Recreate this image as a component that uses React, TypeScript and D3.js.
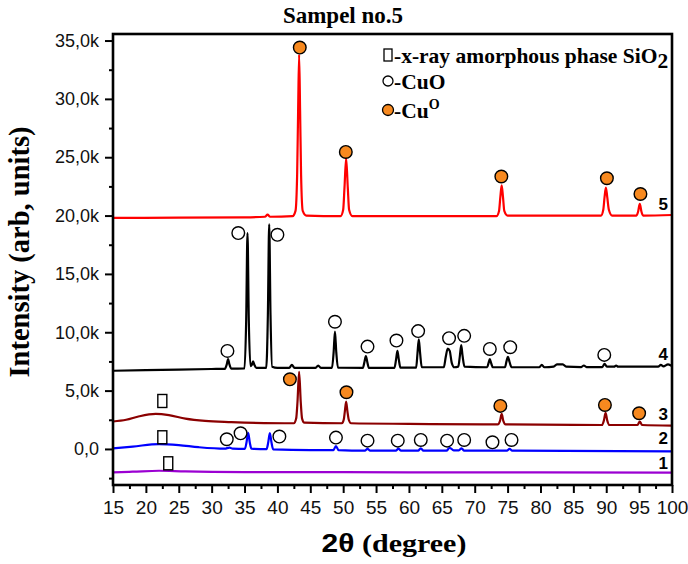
import React, { useEffect, useRef } from 'react';
import * as d3 from 'd3';

type Pt = [number, number];

// 2θ (degree) vs intensity (thousands of counts), each pattern already offset
const pattern1: Pt[] = [
  [15, -2.0], [18, -1.95], [22, -1.87], [26, -1.93], [35, -1.98], [60, -2.0], [100, -2.03]
];

const pattern2: Pt[] = [
  [15, 0.05], [18, 0.2], [22, 0.42], [25, 0.33], [28, 0.15], [32, 0.02], [32.7, 0.12], [33.2, 0.02],
  [35.05, 0.0], [35.3, 0.55], [35.55, 1.38], [35.8, 0.55], [36.05, 0.02],
  [38.35, -0.02], [38.6, 0.55], [38.85, 1.35], [39.1, 0.55], [39.35, -0.03],
  [45, -0.1], [48.5, -0.1], [48.9, 0.25], [49.3, -0.1],
  [53.3, -0.15], [53.7, 0.0], [54.1, -0.15], [58.0, -0.15], [58.4, 0.02], [58.8, -0.15],
  [61.4, -0.15], [61.8, 0.05], [62.2, -0.15], [65.7, -0.15], [66.2, 0.1], [66.8, -0.12],
  [67.6, -0.12], [68.0, 0.05], [68.4, -0.15], [74.9, -0.15], [75.3, 0.0], [75.7, -0.15], [100, -0.2]
];

const pattern3: Pt[] = [
  [15, 2.35], [17, 2.5], [19, 2.8], [21.5, 3.0], [23.5, 2.9], [26, 2.6], [29, 2.4], [33, 2.3], [38, 2.22],
  [42.5, 2.2], [42.85, 2.6], [43.05, 4.0], [43.3, 6.6], [43.55, 4.0], [43.75, 2.6], [44.1, 2.25],
  [49.8, 2.2], [50.1, 2.55], [50.25, 3.2], [50.45, 4.05], [50.65, 3.2], [50.85, 2.5], [51.2, 2.2],
  [60, 2.15], [73.5, 2.1], [73.85, 2.4], [74.1, 3.0], [74.35, 2.4], [74.7, 2.1],
  [89.35, 2.05], [89.65, 2.45], [89.9, 3.1], [90.15, 2.45], [90.5, 2.05],
  [94.75, 2.05], [95.1, 2.35], [95.45, 2.05], [100, 2.0]
];

const pattern4: Pt[] = [
  [15, 6.7], [20, 6.75], [25, 6.8], [30, 6.85], [32.0, 6.87], [32.3, 7.25], [32.5, 7.7], [32.7, 7.25], [33.0, 6.88],
  [35.0, 6.9], [35.25, 11.0], [35.45, 18.5], [35.65, 11.0], [35.9, 7.1], [36.1, 7.2], [36.3, 7.5], [36.5, 7.2], [36.8, 6.95],
  [38.3, 6.95], [38.55, 11.5], [38.75, 19.25], [38.95, 11.5], [39.2, 7.05], [40, 6.95],
  [41.8, 6.95], [42.2, 7.2], [42.6, 6.95], [45.8, 6.95], [46.2, 7.15], [46.6, 6.95],
  [48.3, 6.95], [48.55, 8.3], [48.75, 10.05], [48.95, 8.3], [49.2, 6.97],
  [53.0, 6.95], [53.25, 7.5], [53.45, 7.95], [53.65, 7.5], [53.9, 6.95],
  [57.8, 6.95], [58.05, 7.7], [58.25, 8.4], [58.45, 7.7], [58.7, 6.97],
  [61.1, 6.97], [61.3, 8.2], [61.5, 9.4], [61.7, 8.2], [61.95, 7.0],
  [65.3, 7.0], [65.6, 7.9], [65.9, 8.6], [66.2, 8.4], [66.5, 7.4], [66.9, 7.0],
  [67.5, 7.05], [67.75, 8.0], [67.95, 8.9], [68.15, 8.0], [68.45, 7.05],
  [71.9, 7.0], [72.1, 7.35], [72.3, 7.7], [72.5, 7.35], [72.75, 7.0],
  [74.6, 7.0], [74.85, 7.55], [75.05, 7.9], [75.3, 7.45], [75.6, 7.0],
  [79.8, 7.0], [80.2, 7.2], [80.6, 7.0], [82.0, 7.05], [82.5, 7.25], [83.4, 7.25], [83.9, 7.05],
  [86.2, 7.02], [86.6, 7.15], [87.0, 7.02], [89.4, 7.02], [89.75, 7.3], [90.1, 7.05],
  [91.2, 7.05], [91.5, 7.15], [91.8, 7.05], [97.9, 7.05], [98.3, 7.2], [98.7, 7.08], [99.4, 7.25], [100, 7.1]
];

const pattern5: Pt[] = [
  [15, 19.8], [25, 19.82], [35, 19.85], [38.1, 19.9], [38.5, 20.08], [38.9, 19.9],
  [42.3, 19.95], [42.75, 20.4], [43.0, 23.5], [43.15, 29], [43.3, 33.8], [43.45, 29], [43.6, 23.5], [43.85, 20.4], [44.4, 20.0],
  [49.6, 19.95], [50.0, 20.5], [50.2, 22.4], [50.45, 24.9], [50.7, 22.4], [50.9, 20.5], [51.4, 19.95],
  [73.3, 19.95], [73.7, 20.4], [73.9, 21.6], [74.1, 22.6], [74.3, 21.6], [74.5, 20.4], [75.0, 20.0],
  [89.2, 20.0], [89.55, 20.5], [89.75, 21.6], [89.95, 22.4], [90.15, 21.6], [90.4, 20.5], [90.9, 20.0],
  [94.6, 20.0], [94.85, 20.35], [95.1, 21.0], [95.35, 20.35], [95.6, 20.0], [100, 20.05]
];

const patternNames = ['1', '2', '3', '4', '5'];
const patternColors = ['#9b00d2', '#0000ff', '#8b0000', '#000000', '#ff0000'];
// where each pattern number is written (2θ, intensity)
const nameSpots: Pt[] = [[99.4, -1.7], [99.4, 0.45], [99.4, 2.5], [99.4, 7.6], [99.4, 20.5]];

// phase markers (2θ, intensity)
const cuMetalMarks: Pt[] = [
  [43.4, 34.4], [50.4, 25.45], [74.05, 23.35], [90.1, 23.2], [95.2, 21.85],
  [41.9, 5.97], [50.5, 4.86], [73.9, 3.69], [89.8, 3.77], [95.0, 3.06]
];
const cuoMarks: Pt[] = [
  [34.05, 18.5], [40.0, 18.35], [32.4, 8.4], [48.75, 10.9], [53.7, 8.77], [58.1, 9.29], [61.4, 10.1],
  [66.1, 9.49], [68.4, 9.69], [72.3, 8.57], [75.4, 8.72], [89.7, 8.06],
  [32.3, 0.83], [34.4, 1.34], [40.3, 1.06], [48.9, 0.97], [53.7, 0.71], [58.3, 0.71], [61.8, 0.77],
  [65.8, 0.71], [68.4, 0.77], [72.7, 0.57], [75.6, 0.77]
];
const sio2Marks: Pt[] = [[22.5, 4.11], [22.5, 1.0], [23.4, -1.23]];

const xTicks = d3.range(15, 101, 5);
const xMinor = d3.range(17.5, 100, 5);
const yTicks = d3.range(0, 36, 5);
const yMinor = d3.range(-2.5, 35, 5);

const W = 688;
const H = 564;
const margin = { top: 34, right: 16, bottom: 79, left: 113 };
const ORANGE = '#f7891f';
const SERIF = '"Liberation Serif", "Times New Roman", serif';
const SANS = '"Liberation Sans", Arial, sans-serif';

const App = () => {
  const xAxisRef = useRef<SVGGElement>(null);
  const yAxisRef = useRef<SVGGElement>(null);

  const innerW = W - margin.left - margin.right;
  const innerH = H - margin.top - margin.bottom;

  const x = d3.scaleLinear().domain([15, 100]).range([0, innerW]);
  const y = d3.scaleLinear().domain([-3.09, 35.56]).range([innerH, 0]);

  const line = d3.line<Pt>()
    .x(d => x(d[0]))
    .y(d => y(d[1]))
    .curve(d3.curveMonotoneX);

  const patterns = [pattern1, pattern2, pattern3, pattern4, pattern5];

  useEffect(() => {
    const gx = d3.select(xAxisRef.current);
    gx.selectAll('*').remove();
    gx.append('g')
      .call(d3.axisBottom(x).tickValues(xMinor).tickSize(4).tickFormat(() => '').tickSizeOuter(0))
      .call(g => g.select('.domain').remove());
    gx.append('g')
      .call(d3.axisBottom(x).tickValues(xTicks).tickSize(8).tickPadding(8).tickSizeOuter(0).tickFormat(d => `${d}`))
      .call(g => g.select('.domain').remove());
    gx.selectAll('line').attr('stroke', '#000').attr('stroke-width', 2);
    gx.selectAll('text')
      .attr('font-family', SANS)
      .attr('font-size', 19)
      .attr('fill', '#111');

    const gy = d3.select(yAxisRef.current);
    gy.selectAll('*').remove();
    gy.append('g')
      .call(d3.axisLeft(y).tickValues(yMinor).tickSize(4).tickFormat(() => '').tickSizeOuter(0))
      .call(g => g.select('.domain').remove());
    gy.append('g')
      .call(d3.axisLeft(y).tickValues(yTicks).tickSize(8).tickPadding(6).tickSizeOuter(0)
        .tickFormat(d => (d === 0 ? '0,0' : `${d},0k`)))
      .call(g => g.select('.domain').remove());
    gy.selectAll('line').attr('stroke', '#000').attr('stroke-width', 2);
    gy.selectAll('text')
      .attr('font-family', SANS)
      .attr('font-size', 18)
      .attr('fill', '#111');
  }, []);

  return (
    <svg width={W} height={H} style={{ position: 'absolute', left: 0, top: 0, background: '#fff' }}>
      <text x={343} y={23} textAnchor="middle" fontFamily={SERIF} fontWeight="bold" fontSize={23}>
        Sampel no.5
      </text>

      <g transform={`translate(${margin.left},${margin.top})`}>
        {patterns.map((p, i) => (
          <path key={patternNames[i]} d={line(p) || ''} fill="none"
            stroke={patternColors[i]} strokeWidth={2.2} strokeLinejoin="round" />
        ))}

        {cuMetalMarks.map((d, i) => (
          <circle key={`cu${i}`} cx={x(d[0])} cy={y(d[1])} r={6.3}
            fill={ORANGE} stroke="#000" strokeWidth={1.4} />
        ))}
        {cuoMarks.map((d, i) => (
          <circle key={`cuo${i}`} cx={x(d[0])} cy={y(d[1])} r={6.3}
            fill="none" stroke="#000" strokeWidth={1.4} />
        ))}
        {sio2Marks.map((d, i) => (
          <rect key={`si${i}`} x={x(d[0]) - 4.5} y={y(d[1]) - 6.5} width={9} height={13}
            fill="none" stroke="#000" strokeWidth={1.4} />
        ))}

        {patternNames.map((n, i) => (
          <text key={`lab${n}`} x={x(nameSpots[i][0])} y={y(nameSpots[i][1])} textAnchor="end"
            fontFamily={SANS} fontWeight="bold" fontSize={17}>
            {n}
          </text>
        ))}

        <g ref={xAxisRef} transform={`translate(0,${innerH})`} />
        <g ref={yAxisRef} />
        <rect x={0} y={0} width={innerW} height={innerH} fill="none" stroke="#000" strokeWidth={2.6} />
      </g>

      {/* legend */}
      <g fontFamily={SERIF} fontWeight="bold" fontSize={21.5}>
        <rect x={384} y={49} width={8} height={12} fill="none" stroke="#000" strokeWidth={1.3} />
        <text x={394} y={63}>
          -x-ray amorphous phase SiO<tspan dy={5}>2</tspan>
        </text>
        <circle cx={388} cy={81} r={5} fill="none" stroke="#000" strokeWidth={1.3} />
        <text x={394} y={89}>-CuO</text>
        <circle cx={388} cy={110} r={5.5} fill={ORANGE} stroke="#000" strokeWidth={1.3} />
        <text x={394} y={118}>
          -Cu<tspan dy={-9} fontSize={14}>O</tspan>
        </text>
      </g>

      <text transform="translate(29,252) rotate(-90)" textAnchor="middle"
        fontFamily={SERIF} fontWeight="bold" fontSize={28.5}>
        Intensity (arb, units)
      </text>
      <text transform="translate(394,552) scale(1.2,1)" textAnchor="middle" fontSize={25} fontWeight="bold">
        <tspan fontFamily={SANS}>2θ</tspan>
        <tspan fontFamily={SERIF}> (degree)</tspan>
      </text>
    </svg>
  );
};

export default App;
